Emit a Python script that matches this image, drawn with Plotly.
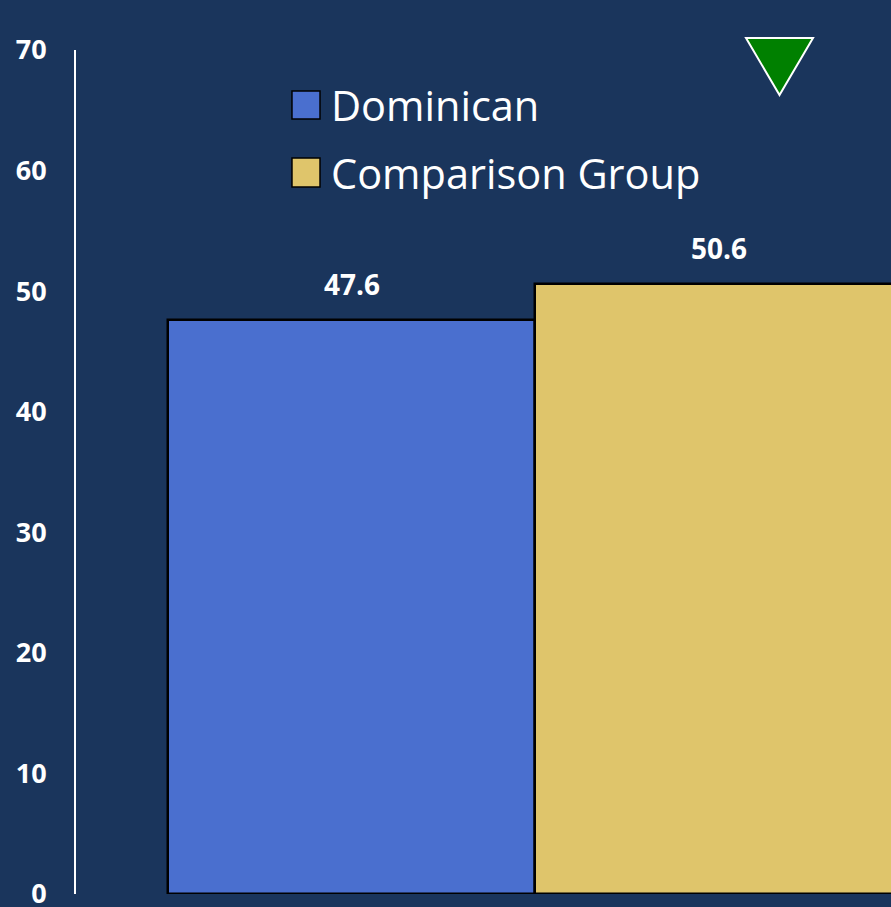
import plotly.graph_objects as go

# Data
groups = ["Dominican", "Comparison Group"]
values = [47.6, 50.6]
bar_colors = ["#4a6fcf", "#dfc56b"]
y_ticks = [0, 10, 20, 30, 40, 50, 60, 70]

BG = "#1a355c"
FONT = "Open Sans"

positions = list(range(len(groups)))

fig = go.Figure()
fig.add_trace(go.Bar(
    x=positions,
    y=values,
    width=[1.0] * len(groups),
    marker=dict(color=bar_colors, line=dict(color="black", width=2.5)),
    showlegend=False,
    hoverinfo="skip",
))

# Value labels above each bar
for pos, val in zip(positions, values):
    fig.add_annotation(
        x=pos, y=val, xref="x", yref="y",
        text=f"<b>{val:.1f}</b>", showarrow=False,
        xanchor="center", yanchor="bottom", yshift=15,
        font=dict(family=FONT, size=28, color="white"),
    )

# Legend drawn with square swatches and text
legend_rows = [(0.9514, 0.9182), (0.8720, 0.8377)]
for name, color, (y_top, y_bot) in zip(groups, bar_colors, legend_rows):
    fig.add_shape(
        type="rect", xref="paper", yref="paper",
        x0=0.2650, x1=0.2994, y0=y_bot, y1=y_top,
        fillcolor=color, line=dict(color="black", width=1.5),
    )
    fig.add_annotation(
        x=0.3110, y=(y_top + y_bot) / 2, xref="paper", yref="paper",
        text=name, showarrow=False, xanchor="left", yanchor="middle",
        font=dict(family=FONT, size=41.5, color="white"),
    )

# Downward indicator triangle
fig.add_shape(
    type="path", xref="paper", yref="paper",
    path="M 0.8221 1.0142 L 0.9043 1.0142 L 0.8632 0.9467 Z",
    fillcolor="#008000", line=dict(color="white", width=2),
)

fig.update_layout(
    width=891, height=907,
    margin=dict(l=76, r=0, t=50, b=13, autoexpand=False),
    paper_bgcolor=BG, plot_bgcolor=BG,
    bargap=0,
    xaxis=dict(
        range=[-0.7507, 1.470], showticklabels=False, showgrid=False,
        zeroline=False, showline=False, fixedrange=True, automargin=False,
    ),
    yaxis=dict(
        range=[0, 70], tickvals=y_ticks, ticktext=[f"<b>{t}</b>" for t in y_ticks],
        showgrid=False, zeroline=False, showline=True, automargin=False,
        linecolor="white", linewidth=2, ticks="", ticklabelstandoff=22,
        ticklabeloverflow="allow",
        tickfont=dict(family=FONT, size=27, color="white"),
    ),
)

fig.write_html("out.html")
